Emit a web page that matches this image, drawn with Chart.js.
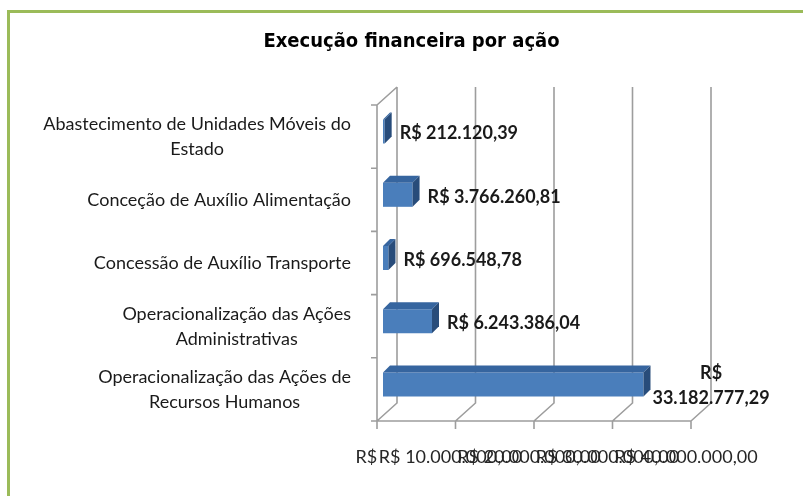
<!DOCTYPE html>
<html>
<head>
<meta charset="utf-8">
<title>Execução financeira por ação</title>
<script src="https://cdn.jsdelivr.net/npm/chart.js@4.4.1/dist/chart.umd.min.js"></script>
<style>
    html, body { margin: 0; padding: 0; background: #fff; }
    #wrap { position: relative; width: 803px; height: 496px; overflow: hidden; }
    #frame { position: absolute; left: 7px; top: 10px; right: -10px; bottom: -10px;
             border-top: 3px solid #9bbb59; border-left: 3px solid #9bbb59; pointer-events: none; }
</style>
</head>
<body>
<div id="wrap">
    <canvas id="acaoChart" width="803" height="496"></canvas>
    <div id="frame"></div>
</div>
<script>
// categories, one array of text lines per label
const categories = [
    ['Abastecimento de Unidades Móveis do', 'Estado'],
    ['Conceção de Auxílio Alimentação'],
    ['Concessão de Auxílio Transporte'],
    ['Operacionalização das Ações', 'Administrativas'],
    ['Operacionalização das Ações de', 'Recursos Humanos']
];
const valores = [212120.39, 3766260.81, 696548.78, 6243386.04, 33182777.29];
const xTickValues = [0, 10000000, 20000000, 30000000, 40000000];
const xTickLabels = ['R$ -', 'R$ 10.000.000,00', 'R$ 20.000.000,00', 'R$ 30.000.000,00', 'R$ 40.000.000,00'];

const DEPTH = 7;                 // depth of the bars
const FRONT = { dx: -6, dy: 5 }; // front plane relative to the bars
const BACK = { dx: 14, dy: -13 }; // back wall relative to the bars
const TEXT_FONT = 'Lato, "Open Sans", sans-serif';

function reais(v) {
    if (v === 0) return 'R$ -';
    const parts = v.toFixed(2).split('.');
    return 'R$ ' + parts[0].replace(/\B(?=(\d{3})+(?!\d))/g, '.') + ',' + parts[1];
}

const frame3d = {
    id: 'frame3d',
    beforeDatasetsDraw(chart) {
        const { ctx, chartArea: a, scales: { x, y } } = chart;
        const band = (a.bottom - a.top) / categories.length;
        const fTop = a.top + FRONT.dy, fBot = a.bottom + FRONT.dy;
        const bTop = a.top + BACK.dy, bBot = a.bottom + BACK.dy;
        const x0 = x.getPixelForValue(xTickValues[0]);
        const x1 = x.getPixelForValue(xTickValues[xTickValues.length - 1]);

        ctx.save();
        ctx.strokeStyle = '#9d9d9d';
        ctx.lineWidth = 1.6;
        ctx.beginPath();
        xTickValues.forEach(v => {
            const px = x.getPixelForValue(v);
            ctx.moveTo(px + BACK.dx, bTop);
            ctx.lineTo(px + BACK.dx, bBot);
            ctx.lineTo(px + FRONT.dx, fBot);
            ctx.lineTo(px + FRONT.dx, fBot + 8);
        });
        ctx.moveTo(x0 + FRONT.dx, fBot);
        ctx.lineTo(x1 + FRONT.dx, fBot);
        // left wall
        ctx.moveTo(x0 + BACK.dx, bTop);
        ctx.lineTo(x0 + FRONT.dx, fTop);
        ctx.lineTo(x0 + FRONT.dx, fBot);
        for (let i = 0; i <= categories.length; i++) {
            const py = y.getPixelForValue(0) - band / 2 + i * band + FRONT.dy;
            ctx.moveTo(x0 + FRONT.dx - 6, py);
            ctx.lineTo(x0 + FRONT.dx, py);
        }
        ctx.stroke();
        ctx.restore();
    },
    afterDatasetsDraw(chart) {
        const { ctx } = chart;
        const meta = chart.getDatasetMeta(0);
        ctx.save();
        meta.data.forEach((bar, i) => {
            const top = bar.y - bar.height / 2, bottom = bar.y + bar.height / 2;
            // top face
            ctx.fillStyle = '#36659f';
            ctx.beginPath();
            ctx.moveTo(bar.base, top);
            ctx.lineTo(bar.base + DEPTH, top - DEPTH);
            ctx.lineTo(bar.x + DEPTH, top - DEPTH);
            ctx.lineTo(bar.x, top);
            ctx.closePath();
            ctx.fill();
            // side face
            ctx.fillStyle = '#284c7a';
            ctx.beginPath();
            ctx.moveTo(bar.x, top);
            ctx.lineTo(bar.x + DEPTH, top - DEPTH);
            ctx.lineTo(bar.x + DEPTH, bottom - DEPTH);
            ctx.lineTo(bar.x, bottom);
            ctx.closePath();
            ctx.fill();

            // value label
            const txt = reais(valores[i]);
            ctx.font = 'bold 18px ' + TEXT_FONT;
            ctx.fillStyle = '#1a1a1a';
            ctx.textBaseline = 'middle';
            let lx = bar.x + DEPTH + 8;
            if (lx + ctx.measureText(txt).width > chart.width - 15) {
                const rest = txt.slice(3);
                const cx = bar.x + DEPTH + 2 + ctx.measureText(rest).width / 2;
                ctx.textAlign = 'center';
                ctx.fillText('R$', cx, bar.y - 11);
                ctx.fillText(rest, cx, bar.y + 14);
            } else {
                ctx.textAlign = 'left';
                ctx.fillText(txt, lx, bar.y + 2);
            }
        });
        ctx.restore();
    },
    afterDraw(chart) {
        // category labels: block right-aligned, lines centred in the block
        const { ctx, scales: { x, y } } = chart;
        const right = x.getPixelForValue(0) + FRONT.dx - 26;
        const lineH = 25;
        ctx.save();
        ctx.font = '18px ' + TEXT_FONT;
        ctx.fillStyle = '#1a1a1a';
        ctx.textAlign = 'center';
        ctx.textBaseline = 'middle';
        categories.forEach((lines, i) => {
            const w = Math.max(...lines.map(l => ctx.measureText(l).width));
            const cx = right - w / 2;
            const cy = y.getPixelForValue(i) + FRONT.dy;
            lines.forEach((l, k) => {
                ctx.fillText(l, cx, cy - (lines.length - 1) * lineH / 2 + k * lineH);
            });
        });
        ctx.restore();
    }
};

const ctx = document.getElementById('acaoChart').getContext('2d');

new Chart(ctx, {
    type: 'bar',
    data: {
        labels: categories,
        datasets: [{
            label: 'Execução financeira',
            data: valores,
            backgroundColor: '#4a7ebb',
            borderWidth: 0,
            barPercentage: 0.38,
            categoryPercentage: 1
        }]
    },
    options: {
        indexAxis: 'y',
        responsive: false,
        animation: false,
        layout: { padding: { left: 40, right: 20, top: 0, bottom: 0 } },
        plugins: {
            legend: { display: false },
            tooltip: { enabled: false },
            title: {
                display: true,
                text: 'Execução financeira por ação',
                color: '#000',
                font: { family: '"Liberation Sans Narrow", "DejaVu Sans Condensed", "Roboto Condensed", Roboto, sans-serif', size: 20, weight: 'bold' },
                padding: { top: 30, bottom: 46 }
            }
        },
        scales: {
            x: {
                min: 0,
                max: 40000000,
                grid: { display: false, drawTicks: false },
                border: { display: false },
                afterBuildTicks: (scale) => { scale.ticks = xTickValues.map(v => ({ value: v })); },
                afterFit: (scale) => { scale.height = 80; },
                ticks: {
                    autoSkip: false,
                    maxRotation: 0,
                    padding: 30,
                    labelOffset: -11,
                    color: '#262626',
                    font: { family: TEXT_FONT, size: 18 },
                    callback: (v, i) => xTickLabels[i]
                }
            },
            y: {
                grid: { display: false },
                border: { display: false },
                ticks: { display: false },
                afterFit: (scale) => { scale.width = 343; }
            },
            yR: {
                type: 'category',
                position: 'right',
                grid: { display: false },
                border: { display: false },
                ticks: { display: false },
                afterFit: (scale) => { scale.width = 86; }
            }
        }
    },
    plugins: [frame3d]
});
</script>
</body>
</html>
